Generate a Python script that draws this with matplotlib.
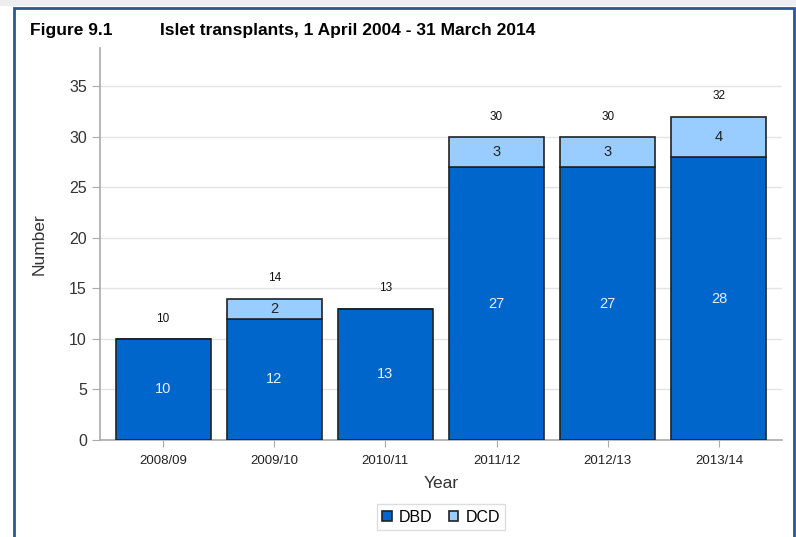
import matplotlib
matplotlib.use("Agg")
import matplotlib.pyplot as plt
import numpy as np
from matplotlib.patches import Rectangle

plt.rcParams["font.family"] = ["Liberation Sans", "DejaVu Sans"]

years = ["2008/09", "2009/10", "2010/11", "2011/12", "2012/13", "2013/14"]
dbd = [10, 12, 13, 27, 27, 28]
dcd = [0, 2, 0, 3, 3, 4]

DBD_COL = "#0066cc"
DCD_COL = "#99ccff"

fig = plt.figure(figsize=(7.96, 5.37), dpi=100)

# grey strip on top and blue frame round the panel
fig.patches.append(Rectangle((0, 1 - 6 / 537), 1, 6 / 537, transform=fig.transFigure,
                             facecolor="#eeeeee", edgecolor="none"))
fig.patches.append(Rectangle((14 / 796, -0.05), (794 - 14) / 796, 1.05 - 8 / 537,
                             transform=fig.transFigure, facecolor="none",
                             edgecolor="#2d5597", lw=2))

ax = fig.add_axes([100 / 796, 97 / 537, 682 / 796, 392 / 537])
x = np.arange(len(years))
w = 0.855
totals = [a + b for a, b in zip(dbd, dcd)]

ax.bar(x, dbd, w, color=DBD_COL, edgecolor="#222222", lw=1.2, label="DBD", zorder=3)
ax.bar(x, dcd, w, bottom=dbd, color=DCD_COL, edgecolor="#222222", lw=1.2,
       label="DCD", zorder=3)

for i in range(len(years)):
    ax.text(x[i], dbd[i] / 2, str(dbd[i]), ha="center", va="center",
            color="#e8eef8", fontsize=10.5, zorder=4)
    if dcd[i] > 0:
        ax.text(x[i], dbd[i] + dcd[i] / 2, str(dcd[i]), ha="center", va="center",
                color="#222222", fontsize=10.5, zorder=4)
    ax.text(x[i], totals[i] + 2, str(totals[i]), ha="center", va="center",
            color="#111111", fontsize=8.5, zorder=4)

ax.set_xlim(-0.567, 5.567)
ax.set_ylim(0, 38.8)
ax.set_yticks(range(0, 36, 5))
ax.set_xticks(x)
ax.set_xticklabels(years, fontsize=9.5, color="#222222")
ax.tick_params(axis="y", labelsize=11.5, colors="#333333", length=6, color="#aaaaaa")
ax.tick_params(axis="y", labelcolor="#333333")
ax.tick_params(axis="x", length=5, color="#aaaaaa", pad=6)
ax.grid(axis="y", color="#e4e4e4", lw=1, zorder=0)
for side in ("top", "right"):
    ax.spines[side].set_visible(False)
for side in ("left", "bottom"):
    ax.spines[side].set_color("#aaaaaa")
    ax.spines[side].set_linewidth(1.2)

ax.set_xlabel("Year", fontsize=12.5, color="#333333", labelpad=6)
ax.set_ylabel("Number", fontsize=12.5, color="#333333", labelpad=16)

fig.text(30 / 796, 1 - 30 / 537, "Figure 9.1", fontsize=12.5, fontweight="bold",
         va="center", ha="left")
fig.text(160 / 796, 1 - 30 / 537, "Islet transplants, 1 April 2004 - 31 March 2014",
         fontsize=12.5, fontweight="bold", va="center", ha="left")

leg = ax.legend(loc="center", bbox_to_anchor=(441 / 796, 1 - 517 / 537),
                bbox_transform=fig.transFigure, ncol=2, fontsize=11.5,
                handlelength=0.6, handleheight=0.6, handletextpad=0.45,
                columnspacing=1.0, borderpad=0.35, fancybox=False,
                edgecolor="#dddddd", framealpha=1)
for h in leg.legend_handles:
    h.set_edgecolor("#222222")

fig.savefig("out.png", dpi=100)
